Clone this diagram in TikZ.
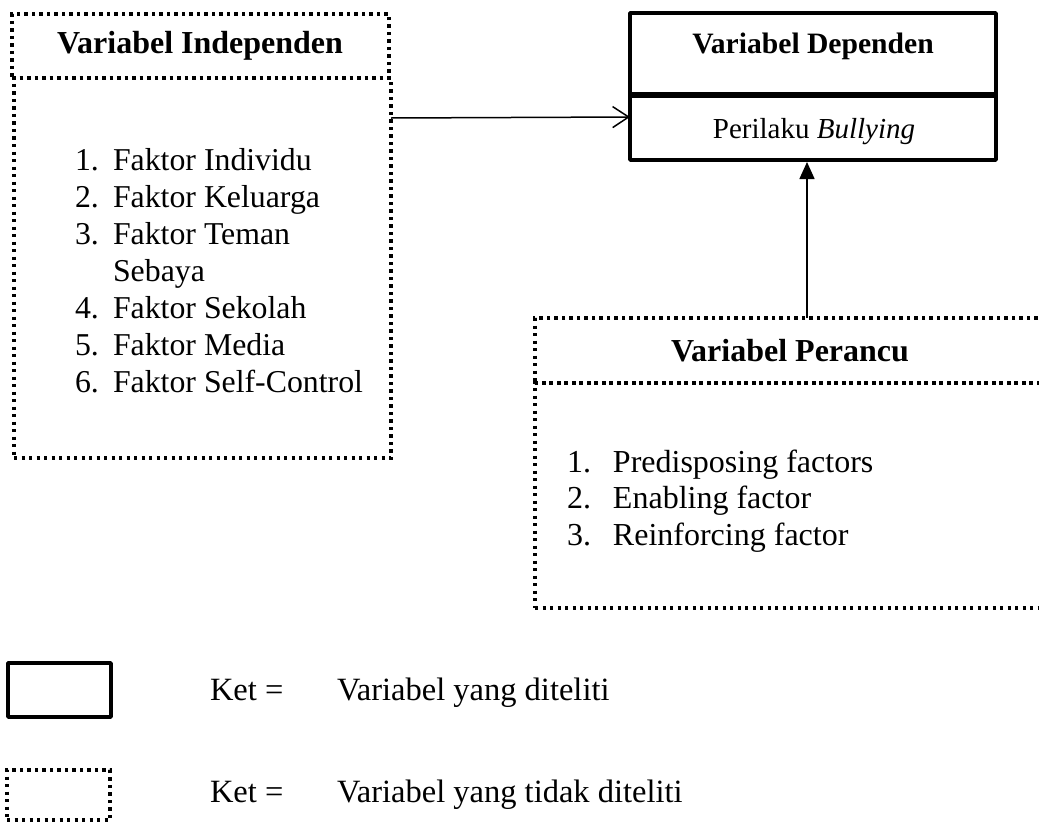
\documentclass[tikz,border=0pt]{standalone}
\usepackage{fontspec}
\setmainfont{Liberation Serif}
\usetikzlibrary{arrows.meta,calc}
\tikzset{
  dotbox/.style={draw, line width=3.2pt, dash pattern=on 3.3pt off 4.2pt, inner sep=0pt, outer sep=0pt},
  solidbox/.style={draw, line width=3.6pt, inner sep=0pt, outer sep=0pt, line join=round},
  txt/.style={inner sep=0pt, outer sep=0pt, font=\fontsize{31.8}{37}\selectfont},
  ttl/.style={inner sep=0pt, outer sep=0pt, font=\fontsize{32}{37}\selectfont\bfseries},
  conn/.style={line width=1.5pt}
}
\begin{document}
\begin{tikzpicture}[x=1pt,y=-1pt]
\useasboundingbox (0,0) rectangle (1039,822);
% Variabel Independen
\node[dotbox, minimum width=377pt, minimum height=64pt] (indT) at (200.5,46) {};
\node[dotbox, minimum width=377pt, minimum height=380pt] (indL) at (202.5,268) {};
\node[ttl] (indTt) at (200,46) {Variabel Independen};
\node[txt, anchor=base west] (indList) at (75,170) {\begin{tabular}[t]{@{}l@{\hspace{14.2pt}}l@{}}
1. & Faktor Individu\\
2. & Faktor Keluarga\\
3. & Faktor Teman\\
   & Sebaya\\
4. & Faktor Sekolah\\
5. & Faktor Media\\
6. & Faktor Self-Control
\end{tabular}};
% Variabel Dependen
\node[solidbox, minimum width=366pt, minimum height=82pt] (depT) at (813,54) {};
\node[solidbox, minimum width=366pt, minimum height=65pt] (depB) at (813,127.5) {};
\draw[line width=5.5pt] (depT.south west) -- (depT.south east);
\node[ttl, font=\fontsize{29.6}{34}\selectfont\bfseries, anchor=base] (depTt) at (813,53) {Variabel Dependen};
\node[txt, font=\fontsize{29}{34}\selectfont, anchor=base] (depBt) at (814,138) {Perilaku \textit{Bullying}};
% Variabel Perancu
\node[dotbox, minimum width=515pt, minimum height=65pt] (perT) at (792.5,350.5) {};
\node[dotbox, minimum width=515pt, minimum height=225pt] (perL) at (792.5,495.5) {};
\node[ttl] (perTt) at (790,350.5) {Variabel Perancu};
\node[txt, font=\fontsize{32}{36.5}\selectfont, anchor=base west] (perList) at (567,472) {\begin{tabular}[t]{@{}l@{\hspace{22pt}}l@{}}
1. & Predisposing factors\\
2. & Enabling factor\\
3. & Reinforcing factor
\end{tabular}};
% connectors
\draw[conn, -{Straight Barb[length=16pt, width=21pt, line width=1.5pt]}]
  ($(indL.north east)+(0,40)$) -- ($(depB.north west)+(0,22)$);
\coordinate (upEnd) at ($(depB.south)+(-6,2)$);
\draw[conn, -{Triangle[length=17pt, width=15pt]}]
  (upEnd |- perT.north) -- (upEnd);
% legend
\node[solidbox, minimum width=103pt, minimum height=54pt] (legS) at (59.5,690) {};
\node[dotbox, minimum width=103pt, minimum height=50pt] (legD) at (58.5,795) {};
\tikzset{lg/.style={txt, font=\fontsize{32.5}{37}\selectfont, anchor=base west}}
\node[lg] (legSk) at (210,700) {Ket};
\node[lg] (legSe) at (265,700) {=};
\node[lg] (legSt) at (337,700) {Variabel yang diteliti};
\node[lg] (legDk) at (210,802) {Ket};
\node[lg] (legDe) at (265,802) {=};
\node[lg] (legDt) at (337,802) {Variabel yang tidak diteliti};
\end{tikzpicture}
\end{document}
